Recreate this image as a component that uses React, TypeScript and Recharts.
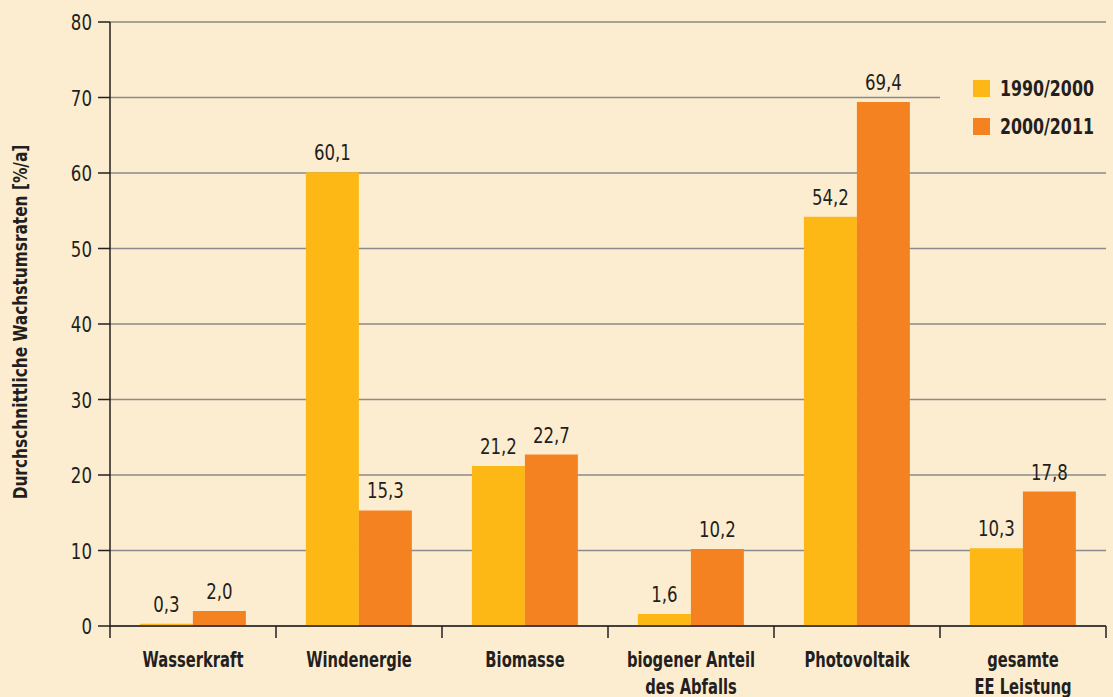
import React from 'react';
import { BarChart, Bar, XAxis, YAxis, CartesianGrid, LabelList } from 'recharts';

const categories = [
  'Wasserkraft',
  'Windenergie',
  'Biomasse',
  'biogener Anteil\ndes Abfalls',
  'Photovoltaik',
  'gesamte\nEE Leistung',
];
const rates1990 = [0.3, 60.1, 21.2, 1.6, 54.2, 10.3];
const rates2000 = [2.0, 15.3, 22.7, 10.2, 69.4, 17.8];
const yTicks = [0, 10, 20, 30, 40, 50, 60, 70, 80];
const seriesNames = ['1990/2000', '2000/2011'];

const BG = '#fdedd0';
const YELLOW = '#fdb815';
const ORANGE = '#f58220';
const INK = '#231f20';
const FONT = '"DejaVu Sans Condensed", sans-serif';
const BAND = 166;

const data = categories.map((name, i) => ({
  name,
  a: rates1990[i],
  b: rates2000[i],
}));

const fmt = (v: any) => Number(v).toFixed(1).replace('.', ',');

// narrow text: the original uses a condensed face, so squeeze DejaVu Condensed a bit more
const NarrowText = ({ x, y, sx = 0.84, size = 22, weight = 'normal', anchor = 'middle', children }: any) => (
  <text
    transform={`translate(${x},${y}) scale(${sx},1)`}
    textAnchor={anchor}
    fill={INK}
    fontFamily={FONT}
    fontWeight={weight}
    fontSize={size}
  >
    {children}
  </text>
);

const CategoryTick = (props: any) => {
  const { x, y, payload, index } = props;
  const lines = String(payload.value).split('\n');
  return (
    <g>
      <line x1={x - BAND / 2} y1={y} x2={x - BAND / 2} y2={y + 12} stroke={INK} strokeWidth={1.5} />
      {index === categories.length - 1 && (
        <line x1={x + BAND / 2} y1={y} x2={x + BAND / 2} y2={y + 12} stroke={INK} strokeWidth={1.5} />
      )}
      {lines.map((l, i) => (
        <NarrowText key={i} x={x} y={y + 41 + i * 27} sx={0.8} size={20.5} weight="bold">
          {l}
        </NarrowText>
      ))}
    </g>
  );
};

const ValueTick = (props: any) => {
  const { x, y, payload } = props;
  return (
    <NarrowText x={x} y={y + 8} anchor="end">
      {payload.value}
    </NarrowText>
  );
};

const ValueLabel = (props: any) => {
  const { x, y, width, value } = props;
  return (
    <NarrowText x={x + width / 2} y={y - 12}>
      {fmt(value)}
    </NarrowText>
  );
};

const LegendBox = () => (
  <div style={{ position: 'absolute', left: 940, top: 40, width: 166, height: 118, background: BG }}>
    {[YELLOW, ORANGE].map((c, i) => (
      <div
        key={i}
        style={{ position: 'absolute', left: 33, top: 40 + i * 38, height: 17, display: 'flex', alignItems: 'center' }}
      >
        <span style={{ width: 17, height: 17, background: c, display: 'inline-block' }} />
        <span
          style={{
            marginLeft: 10,
            fontFamily: FONT,
            fontWeight: 'bold',
            fontSize: 22,
            color: INK,
            display: 'inline-block',
            transform: 'scaleX(0.8)',
            transformOrigin: 'left center',
            whiteSpace: 'nowrap',
          }}
        >
          {seriesNames[i]}
        </span>
      </div>
    ))}
  </div>
);

export default function App() {
  return (
    <div style={{ position: 'absolute', left: 0, top: 0, width: 1113, height: 697, background: BG }}>
      <BarChart
        width={1113}
        height={697}
        data={data}
        margin={{ top: 22, right: 7, left: 0, bottom: 0 }}
        barCategoryGap="18%"
        barGap={0}
      >
        <CartesianGrid vertical={false} stroke="#8a8a8a" strokeWidth={1.5} />
        <XAxis
          dataKey="name"
          height={71}
          tickLine={false}
          tickSize={0}
          tickMargin={0}
          interval={0}
          axisLine={{ stroke: INK, strokeWidth: 1.5 }}
          tick={<CategoryTick />}
        />
        <YAxis
          width={110}
          domain={[0, 80]}
          ticks={yTicks}
          tickSize={12}
          tickMargin={6}
          interval={0}
          axisLine={{ stroke: INK, strokeWidth: 1.5 }}
          tickLine={{ stroke: INK, strokeWidth: 1.5 }}
          tick={<ValueTick />}
          label={{
            content: () => (
              <text
                transform="translate(27,322) rotate(-90) scale(0.9,1)"
                textAnchor="middle"
                fill={INK}
                fontFamily={FONT}
                fontWeight="bold"
                fontSize={19}
              >
                Durchschnittliche Wachstumsraten [%/a]
              </text>
            ),
          }}
        />
        <Bar dataKey="a" name={seriesNames[0]} fill={YELLOW} isAnimationActive={false}>
          <LabelList dataKey="a" content={<ValueLabel />} />
        </Bar>
        <Bar dataKey="b" name={seriesNames[1]} fill={ORANGE} isAnimationActive={false}>
          <LabelList dataKey="b" content={<ValueLabel />} />
        </Bar>
      </BarChart>
      <LegendBox />
    </div>
  );
}
